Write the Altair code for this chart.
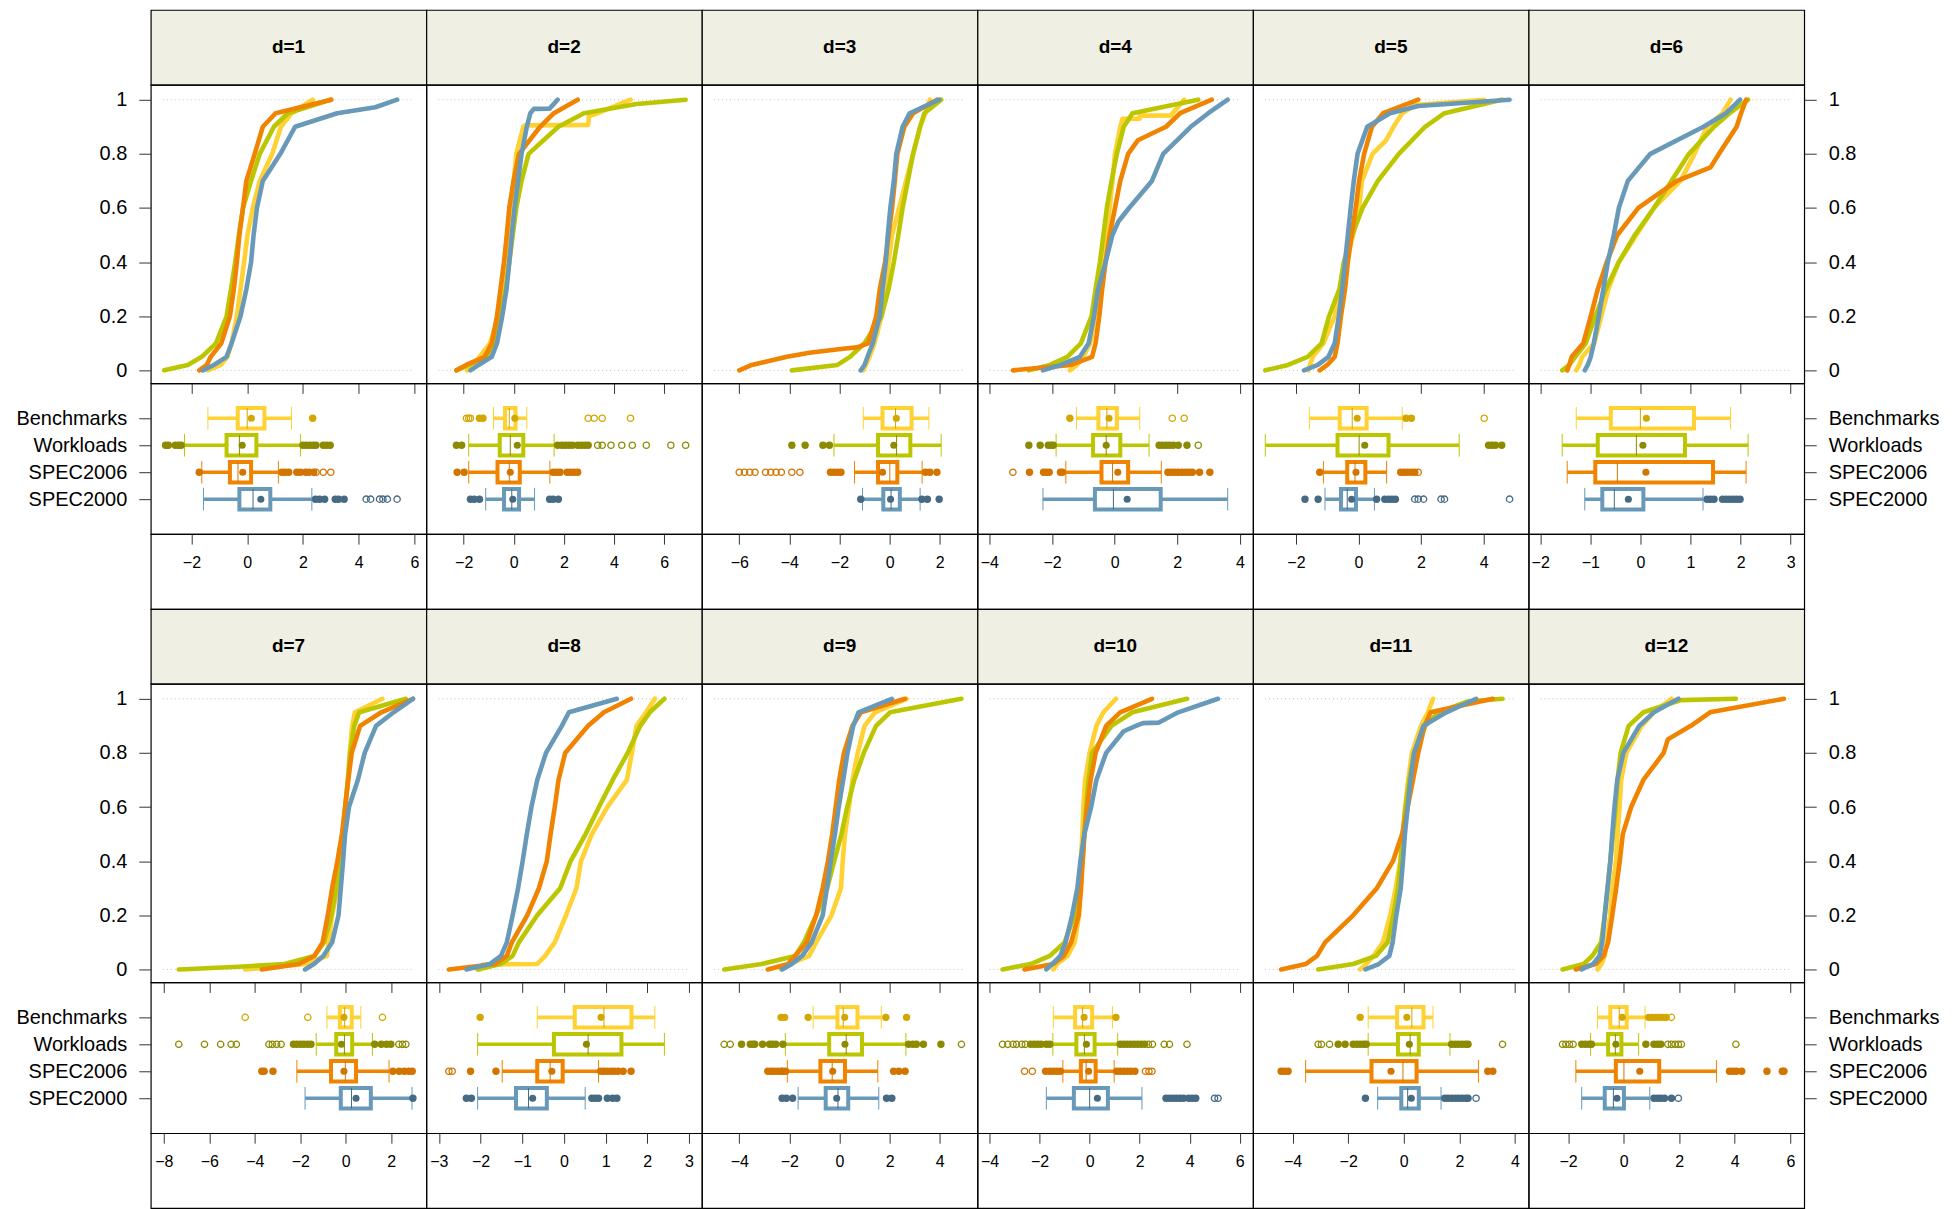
import altair as alt
import pandas as pd

# ---------------- data ----------------
SERIES = ["Benchmarks", "Workloads", "SPEC2006", "SPEC2000"]
PANELS = list(range(1, 13))
P_GRID = [0, 0.02, 0.05, 0.1, 0.2, 0.3, 0.4, 0.5, 0.6, 0.7, 0.8, 0.9, 0.95, 1]

X_DOMAIN = {1: (-3.46, 6.43), 2: (-3.49, 7.51), 3: (-7.49, 3.51), 4: (-4.38, 4.42),
            5: (-3.37, 5.44), 6: (-2.23, 3.27), 7: (-8.57, 3.54), 8: (-3.30, 3.31),
            9: (-5.49, 5.51), 10: (-4.48, 6.53), 11: (-5.42, 4.49), 12: (-3.42, 6.50)}
X_TICKS = {1: [-2, 0, 2, 4, 6], 2: [-2, 0, 2, 4, 6], 3: [-6, -4, -2, 0, 2], 4: [-4, -2, 0, 2, 4],
           5: [-2, 0, 2, 4], 6: [-2, -1, 0, 1, 2, 3], 7: [-8, -6, -4, -2, 0, 2], 8: [-3, -2, -1, 0, 1, 2, 3],
           9: [-4, -2, 0, 2, 4], 10: [-4, -2, 0, 2, 4, 6], 11: [-4, -2, 0, 2, 4], 12: [-2, 0, 2, 4, 6]}

# ECDF: x value at each probability of P_GRID
CDF_BENCH = {
    1: [-1.41, -0.95, -0.71, -0.56, -0.37, -0.24, -0.11, 0.01, 0.2, 0.45, 0.9, 1.21, 1.59, 2.35],
    2: [-1.87, -1.6, -1.37, -0.95, -0.6, -0.46, -0.32, -0.18, -0.11, 0.0, 0.1, 0.38, 3.35, 4.66],
    3: [-1.05, -0.95, -0.8, -0.6, -0.32, -0.18, -0.04, 0.1, 0.38, 0.66, 0.94, 1.22, 1.43, 1.61],
    4: [-1.43, -1.2, -1.0, -0.78, -0.61, -0.49, -0.38, -0.27, -0.16, -0.07, 0.01, 0.18, 1.85, 2.22],
    5: [-1.6, -1.55, -1.46, -1.12, -0.76, -0.58, -0.39, -0.17, 0.02, 0.11, 0.45, 1.12, 1.4, 4.02],
    6: [-1.28, -1.22, -1.16, -0.92, -0.78, -0.64, -0.43, -0.08, 0.27, 0.8, 1.08, 1.33, 1.64, 1.8],
    7: [-4.42, -1.76, -0.83, -0.76, -0.6, -0.37, -0.22, -0.09, -0.02, 0.09, 0.17, 0.28, 0.4, 1.61],
    8: [-2.01, -0.64, -0.45, -0.22, 0.05, 0.3, 0.41, 0.67, 1.04, 1.51, 1.63, 1.74, 1.97, 2.18],
    9: [-2.33, -2.0, -1.21, -0.93, -0.32, 0.06, 0.13, 0.22, 0.38, 0.52, 0.73, 1.0, 1.42, 2.68],
    10: [-1.45, -1.3, -0.88, -0.6, -0.42, -0.38, -0.35, -0.29, -0.25, -0.18, 0.0, 0.27, 0.55, 1.05],
    11: [-1.57, -1.35, -1.09, -0.75, -0.49, -0.29, -0.13, -0.03, 0.05, 0.16, 0.29, 0.62, 0.87, 1.05],
    12: [-0.94, -0.8, -0.68, -0.61, -0.49, -0.41, -0.28, -0.22, -0.15, -0.09, 0.1, 0.65, 1.09, 1.72],
}
CDF_WORK = {
    1: [-2.98, -2.13, -1.63, -1.12, -0.74, -0.58, -0.43, -0.30, -0.15, 0.14, 0.45, 0.96, 1.46, 2.98],
    2: [-2.29, -1.8, -1.09, -0.81, -0.53, -0.32, -0.18, -0.04, 0.1, 0.31, 0.59, 1.78, 2.8, 6.86],
    3: [-3.9, -2.08, -1.58, -1.0, -0.32, -0.04, 0.17, 0.35, 0.52, 0.73, 0.94, 1.22, 1.39, 2.06],
    4: [-2.74, -2.07, -1.51, -1.08, -0.74, -0.61, -0.47, -0.36, -0.25, -0.1, 0.07, 0.29, 0.57, 2.67],
    5: [-2.98, -2.25, -1.63, -1.18, -0.94, -0.61, -0.47, -0.2, 0.13, 0.62, 1.29, 2.13, 2.75, 4.58],
    6: [-1.56, -1.42, -1.3, -1.09, -0.9, -0.69, -0.43, -0.11, 0.27, 0.62, 0.97, 1.47, 1.78, 2.15],
    7: [-7.34, -2.69, -1.38, -0.96, -0.63, -0.42, -0.28, -0.14, -0.03, 0.09, 0.2, 0.37, 0.59, 2.64],
    8: [-2.07, -1.52, -1.23, -1.08, -0.64, -0.09, 0.16, 0.52, 0.84, 1.17, 1.53, 1.83, 2.06, 2.41],
    9: [-4.6, -3.1, -1.77, -1.42, -0.93, -0.49, -0.21, 0.08, 0.31, 0.59, 0.97, 1.46, 2.02, 4.87],
    10: [-3.48, -2.36, -1.59, -1.0, -0.6, -0.41, -0.28, -0.21, -0.14, -0.04, 0.1, 0.87, 1.71, 3.89],
    11: [-3.08, -1.82, -1.0, -0.58, -0.37, -0.21, -0.11, -0.04, 0.06, 0.2, 0.37, 0.77, 1.25, 3.55],
    12: [-2.2, -1.44, -1.13, -0.81, -0.68, -0.58, -0.48, -0.38, -0.29, -0.22, -0.11, 0.18, 0.71, 4.04],
}
CDF_S06 = {
    1: [-1.72, -1.45, -1.31, -0.93, -0.62, -0.48, -0.37, -0.28, -0.15, -0.03, 0.27, 0.56, 1.02, 3.02],
    2: [-2.29, -1.9, -1.16, -0.88, -0.67, -0.53, -0.39, -0.28, -0.18, -0.01, 0.21, 1.05, 1.6, 2.55],
    3: [-6.0, -5.5, -4.1, -0.85, -0.53, -0.39, -0.18, -0.04, 0.1, 0.21, 0.31, 0.59, 0.94, 1.89],
    4: [-3.25, -1.39, -0.72, -0.61, -0.49, -0.4, -0.29, -0.16, 0.01, 0.18, 0.43, 1.64, 2.09, 3.1],
    5: [-1.24, -1.0, -0.76, -0.67, -0.56, -0.43, -0.34, -0.22, -0.09, 0.02, 0.18, 0.43, 0.79, 1.91],
    6: [-1.46, -1.42, -1.37, -1.14, -0.99, -0.85, -0.67, -0.46, -0.04, 0.73, 1.57, 1.92, 2.01, 2.11],
    7: [-3.69, -2.07, -1.38, -1.02, -0.79, -0.6, -0.37, -0.17, -0.03, 0.11, 0.26, 0.63, 1.56, 2.95],
    8: [-2.76, -1.65, -1.37, -1.25, -0.88, -0.6, -0.41, -0.32, -0.22, -0.13, 0.03, 0.58, 0.96, 1.61],
    9: [-2.86, -2.05, -1.77, -1.3, -0.93, -0.67, -0.46, -0.29, -0.15, -0.01, 0.18, 0.52, 0.86, 2.62],
    10: [-2.6, -1.45, -1.03, -0.74, -0.44, -0.34, -0.28, -0.21, -0.1, 0.04, 0.24, 0.66, 1.22, 2.49],
    11: [-4.41, -3.53, -3.12, -2.83, -1.82, -0.97, -0.39, -0.06, 0.14, 0.33, 0.52, 0.75, 0.96, 3.2],
    12: [-1.72, -1.0, -0.72, -0.56, -0.41, -0.27, -0.14, -0.03, 0.27, 0.71, 1.44, 2.42, 3.11, 5.77],
}
CDF_S00 = {
    1: [-1.59, -1.2, -0.74, -0.56, -0.24, -0.03, 0.14, 0.23, 0.35, 0.56, 1.19, 1.72, 3.23, 5.38],
    2: [-1.73, -1.4, -0.88, -0.67, -0.46, -0.29, -0.18, -0.08, 0.03, 0.17, 0.31, 0.52, 0.66, 1.75],
    3: [-1.15, -1.0, -0.88, -0.67, -0.39, -0.28, -0.15, -0.07, 0.03, 0.17, 0.27, 0.52, 0.8, 1.98],
    4: [-2.29, -1.73, -1.11, -0.83, -0.66, -0.53, -0.29, -0.07, 0.46, 1.19, 1.55, 2.43, 2.99, 3.61],
    5: [-1.74, -1.3, -0.96, -0.76, -0.63, -0.52, -0.43, -0.34, -0.25, -0.15, -0.03, 0.28, 1.01, 4.83],
    6: [-1.11, -1.05, -0.99, -0.93, -0.83, -0.74, -0.65, -0.53, -0.43, -0.25, 0.2, 1.26, 1.71, 1.99],
    7: [-1.79, -1.4, -0.99, -0.6, -0.32, -0.22, -0.12, -0.03, 0.14, 0.53, 0.83, 1.33, 2.1, 2.95],
    8: [-2.34, -1.78, -1.51, -1.37, -1.23, -1.1, -0.99, -0.89, -0.78, -0.64, -0.43, -0.05, 0.12, 1.27],
    9: [-2.29, -1.9, -1.49, -1.11, -0.67, -0.5, -0.35, -0.18, -0.03, 0.15, 0.32, 0.55, 0.76, 2.09],
    10: [-1.73, -1.5, -1.17, -0.96, -0.7, -0.49, -0.37, -0.21, 0.06, 0.27, 0.66, 1.85, 3.54, 5.13],
    11: [-1.38, -0.9, -0.52, -0.4, -0.27, -0.11, -0.03, 0.04, 0.14, 0.24, 0.37, 0.71, 1.53, 2.6],
    12: [-1.51, -1.1, -0.87, -0.77, -0.68, -0.58, -0.48, -0.41, -0.33, -0.23, -0.01, 0.56, 1.09, 1.97],
}
# extra (probability, x) points where the curves have steps
EXTRA_BENCH = {2: [(0.905, 0.45), (0.907, 2.97), (0.94, 3.0)],
               4: [(0.929, 0.25), (0.93, 0.8), (0.941, 0.8), (0.942, 1.81)],
               5: [(0.85, 0.88), (0.98, 1.8)], 8: [(0.018, -1.95)]}
EXTRA_WORK = {2: [(0.984, 4.9)], 7: [(0.01, -4.7)], 11: [(0.99, 2.3)], 12: [(0.99, 1.9), (0.995, 2.05)]}
EXTRA_S06 = {3: [(0.065, -3.2), (0.08, -1.87), (0.085, -1.3)], 4: [(0.85, 0.74)],
             6: [(0.75, 1.4)], 12: [(0.85, 1.59)]}
EXTRA_S00 = {1: [(0.972, 4.6)], 2: [(0.966, 0.8), (0.967, 1.43)], 4: [(0.55, 0.12)],
             5: [(0.977, 1.91)], 10: [(0.88, 1.36), (0.91, 2.13), (0.912, 2.77)]}

# box plots: (lower whisker, q1, median, q3, upper whisker, mean)
BOX_BENCH = {1: (-1.41, -0.34, 0.0, 0.62, 1.59, 0.15), 2: (-0.81, -0.35, -0.18, 0.07, 0.52, 0.04),
             3: (-1.05, -0.28, 0.24, 0.88, 1.57, 0.27), 4: (-1.22, -0.52, -0.25, 0.07, 0.8, -0.18),
             5: (-1.57, -0.6, -0.2, 0.26, 1.4, -0.04), 6: (-1.28, -0.59, 0.0, 1.07, 1.8, 0.12),
             7: (-0.83, -0.26, -0.05, 0.26, 0.66, -0.08), 8: (-0.64, 0.26, 0.96, 1.62, 2.18, 0.89),
             9: (-1.05, -0.08, 0.15, 0.72, 1.67, 0.21), 10: (-1.45, -0.58, -0.28, 0.1, 0.91, -0.22),
             11: (-1.28, -0.24, 0.29, 0.71, 1.05, 0.11), 12: (-0.94, -0.48, -0.16, 0.11, 0.77, -0.05)}
BOX_WORK = {1: (-2.25, -0.74, -0.28, 0.33, 1.91, -0.18), 2: (-1.8, -0.56, -0.14, 0.38, 1.61, 0.14),
            3: (-2.22, -0.46, 0.28, 0.83, 2.06, 0.17), 4: (-1.87, -0.69, -0.27, 0.18, 1.1, -0.27),
            5: (-2.98, -0.67, 0.02, 0.96, 3.22, 0.2), 6: (-1.56, -0.85, -0.08, 0.89, 2.15, 0.05),
            7: (-1.3, -0.42, -0.06, 0.28, 1.17, -0.19), 8: (-2.07, -0.24, 0.58, 1.38, 2.41, 0.54),
            9: (-2.16, -0.41, 0.27, 0.9, 2.65, 0.22), 10: (-1.47, -0.53, -0.21, 0.2, 1.12, -0.13),
            11: (-1.28, -0.21, 0.23, 0.54, 1.66, 0.2), 12: (-1.19, -0.56, -0.3, -0.08, 0.54, -0.28)}
BOX_S06 = {1: (-1.63, -0.62, -0.33, 0.14, 1.12, -0.16), 2: (-1.8, -0.65, -0.18, 0.24, 1.44, -0.14),
           3: (-1.4, -0.46, 0.01, 0.31, 1.3, -0.28), 4: (-1.56, -0.42, -0.07, 0.43, 1.49, 0.1),
           5: (-1.12, -0.36, -0.11, 0.22, 0.9, -0.08), 6: (-1.46, -0.9, -0.46, 1.45, 2.11, 0.11),
           7: (-2.15, -0.65, -0.02, 0.45, 1.9, -0.08), 8: (-1.48, -0.64, -0.33, -0.03, 0.83, -0.29),
           9: (-2.08, -0.76, -0.29, 0.22, 1.53, -0.27), 10: (-1.07, -0.35, -0.14, 0.24, 0.98, -0.04),
           11: (-3.53, -1.16, -0.03, 0.46, 2.69, -0.46), 12: (-1.72, -0.28, 0.01, 1.28, 3.34, 0.58)}
BOX_S00 = {1: (-1.57, -0.28, 0.21, 0.83, 2.32, 0.49), 2: (-1.12, -0.39, -0.08, 0.21, 0.83, -0.04),
           3: (-1.08, -0.25, 0.06, 0.41, 1.22, 0.04), 4: (-2.29, -0.63, -0.04, 1.47, 3.61, 0.4),
           5: (-1.07, -0.56, -0.36, -0.08, 0.51, -0.22), 6: (-1.11, -0.76, -0.52, 0.06, 1.25, -0.24),
           7: (-1.79, -0.22, 0.25, 1.1, 2.91, 0.45), 8: (-2.07, -1.15, -0.85, -0.41, 0.51, -0.75),
           9: (-1.65, -0.55, -0.06, 0.35, 1.57, -0.11), 10: (-1.73, -0.63, 0.0, 0.73, 2.09, 0.31),
           11: (-0.94, -0.09, 0.14, 0.54, 1.34, 0.27), 12: (-1.51, -0.68, -0.37, 0.01, 0.94, -0.24)}

# outliers: filled (mild) and open (extreme)
FILLED_BENCH = {1: [2.35], 2: [-1.37, -1.23], 4: [-1.43], 5: [1.52, 1.69], 8: [-2.01],
                9: [-2.33, -2.19, -1.25, 1.85, 2.68], 10: [1.05], 11: [-1.57],
                12: [0.9, 1.03, 1.15, 1.28, 1.41, 1.53]}
OPEN_BENCH = {2: [-1.89, -1.8, -1.73, 2.97, 3.21, 3.53, 4.66], 4: [1.84, 2.22], 5: [4.02],
              7: [-4.42, -1.67, 1.61], 12: [1.72]}
FILLED_WORK = {1: [-2.93, -2.83, -2.58, -2.47, -2.37, 2.0, 2.12, 2.25, 2.37, 2.47, 2.73, 2.85, 2.98],
               2: [-2.29, -2.08, 1.75, 1.92, 2.06, 2.2, 2.34, 2.55, 2.69, 2.83, 2.97],
               3: [-3.9, -3.37, -2.66, -2.4],
               4: [-2.74, -2.38, -2.12, -2.03, -1.96, 1.42, 1.53, 1.64, 1.75, 1.87, 2.03, 2.31],
               5: [4.16, 4.27, 4.38, 4.58],
               7: [-2.3, -2.15, -1.99, -1.84, -1.68, -1.53, 1.27, 1.56, 1.79, 1.98],
               9: [-3.91, -3.56, -3.45, -3.38, -3.07, -2.79, -2.68, -2.54, -2.26, 2.76, 2.93, 3.07, 3.35, 4.05],
               10: [-2.36, -2.22, -2.08, -1.94, -1.73, -1.59, 1.22, 1.36, 1.5, 1.64, 1.78, 1.92, 2.06, 2.2],
               11: [-2.36, -2.11, -1.82, -1.69, -1.57, -1.44, -1.35, 1.72, 1.85, 1.97, 2.1, 2.23, 2.31],
               12: [-1.51, -1.38, -1.25, -1.16, 0.8, 1.09, 1.22, 1.34]}
OPEN_WORK = {2: [3.35, 3.53, 3.88, 4.31, 4.73, 5.29, 6.27, 6.86], 4: [2.67],
             7: [-7.34, -6.21, -5.5, -5.04, -4.81, -3.38, -3.23, -3.04, -2.84, 2.33, 2.49, 2.64],
             9: [-4.6, -4.36, 4.87],
             10: [-3.48, -3.27, -3.06, -2.92, -2.71, -2.57, 2.35, 2.51, 2.98, 3.19, 3.89],
             11: [-3.08, -2.96, -2.67, 3.55],
             12: [-2.2, -2.08, -1.95, -1.82, 1.59, 1.72, 1.85, 1.97, 2.08, 4.04]}
FILLED_S06 = {1: [-1.72, 1.24, 1.36, 1.49, 1.78, 1.91, 2.1, 2.22, 2.39],
              2: [-2.26, -1.98, 1.57, 1.71, 1.85, 2.13, 2.27, 2.41, 2.55],
              3: [-2.36, -2.22, -2.08, -1.94, 1.43, 1.61, 1.89],
              4: [-2.72, -2.27, -2.18, -2.09, -1.73, -1.67, 1.7, 1.81, 1.92, 2.03, 2.15, 2.26, 2.37, 2.48, 2.71, 3.04],
              5: [-1.24, 1.35, 1.46, 1.57, 1.69, 1.8],
              7: [-3.69, -3.59, -3.2, 2.07, 2.35, 2.57, 2.77, 2.92],
              8: [-2.24, -1.63, 0.88, 0.96, 1.04, 1.13, 1.21, 1.3, 1.42, 1.61],
              9: [-2.86, -2.72, -2.61, -2.47, -2.33, -2.26, -2.15, 2.16, 2.37, 2.62],
              10: [-1.76, -1.59, -1.45, -1.31, -1.17, 1.08, 1.22, 1.36, 1.5, 1.64, 1.81],
              11: [-4.41, -4.29, -4.16, 3.02, 3.2],
              12: [3.81, 3.94, 4.06, 4.25, 5.16, 5.71, 5.77]}
OPEN_S06 = {1: [2.47, 2.73, 3.0],
            3: [-6.0, -5.79, -5.58, -5.37, -4.95, -4.74, -4.53, -4.32, -3.9, -3.58],
            4: [-3.25], 5: [1.91], 8: [-2.76, -2.68], 10: [-2.6, -2.29, 2.23, 2.37, 2.49]}
FILLED_S00 = {1: [2.45, 2.6, 2.78, 3.16, 3.28, 3.48], 2: [-1.73, -1.58, -1.37, 1.43, 1.57, 1.78],
              3: [-1.15, 1.29, 1.51, 1.98], 5: [-1.71, -1.29, 0.58, 0.84, 0.96, 1.07, 1.18],
              6: [1.33, 1.4, 1.47, 1.64, 1.71, 1.78, 1.85, 1.92, 1.99], 7: [2.95],
              8: [-2.34, -2.22, 0.67, 0.75, 0.83, 1.04, 1.17, 1.27],
              9: [-2.29, -2.12, -1.87, 1.88, 2.09],
              10: [3.05, 3.19, 3.33, 3.47, 3.61, 3.75, 3.96, 4.1, 4.24],
              11: [-1.38, 1.47, 1.59, 1.72, 1.85, 1.97, 2.1, 2.23, 2.31],
              12: [1.09, 1.22, 1.34, 1.47, 1.72]}
OPEN_S00 = {1: [4.27, 4.43, 4.75, 4.87, 5.03, 5.38], 5: [1.8, 1.91, 2.08, 2.64, 2.75, 4.83],
            10: [4.99, 5.13], 11: [2.6], 12: [1.97]}

# ---------------- styling ----------------
FONT = "Liberation Sans"
W, H_STRIP, H_CDF, H_BOX, H_AXIS = 276, 75, 299, 151, 75
BASE = {"Benchmarks": "#FFD133", "Workloads": "#BCC600", "SPEC2006": "#F08300", "SPEC2000": "#6899B9"}
DARK = {"Benchmarks": "#D4A600", "Workloads": "#8C8A00", "SPEC2006": "#D27400", "SPEC2000": "#466A84"}
STRIP_FILL = "#F0EFE3"
TICK_COLOR = "#333333"

CDF = {"Benchmarks": CDF_BENCH, "Workloads": CDF_WORK, "SPEC2006": CDF_S06, "SPEC2000": CDF_S00}
EXTRA = {"Benchmarks": EXTRA_BENCH, "Workloads": EXTRA_WORK, "SPEC2006": EXTRA_S06, "SPEC2000": EXTRA_S00}
BOX = {"Benchmarks": BOX_BENCH, "Workloads": BOX_WORK, "SPEC2006": BOX_S06, "SPEC2000": BOX_S00}
FILLED = {"Benchmarks": FILLED_BENCH, "Workloads": FILLED_WORK, "SPEC2006": FILLED_S06, "SPEC2000": FILLED_S00}
OPEN = {"Benchmarks": OPEN_BENCH, "Workloads": OPEN_WORK, "SPEC2006": OPEN_S06, "SPEC2000": OPEN_S00}


def y_axis_cdf(col):
    common = dict(values=[0, 0.2, 0.4, 0.6, 0.8, 1], format=".1~f", tickSize=12, labelPadding=12,
                  labelFontSize=20, domain=False, grid=False, title=None, labelOverlap=False,
                  labelFlush=False)
    if col == 0:
        return alt.Axis(orient="left", **common)
    if col == 5:
        return alt.Axis(orient="right", **common)
    return None


def y_axis_box(col):
    expr = "[''," + ",".join("'%s'" % s for s in SERIES) + "][datum.value]"
    common = dict(values=[1, 2, 3, 4], labelExpr=expr, tickSize=12, labelPadding=12,
                  labelFontSize=20, domain=False, grid=False, title=None, labelOverlap=False,
                  labelFlush=False)
    if col == 0:
        return alt.Axis(orient="left", **common)
    if col == 5:
        return alt.Axis(orient="right", **common)
    return None


def strip_chart(d):
    return alt.Chart(pd.DataFrame({"t": ["d=%d" % d]})).mark_text(
        font=FONT, fontWeight="bold", fontSize=19, color="black"
    ).encode(text="t:N", x=alt.value(W / 2), y=alt.value(H_STRIP / 2)).properties(
        width=W, height=H_STRIP,
        view=alt.ViewBackground(fill=STRIP_FILL, stroke="black", strokeWidth=1.2))


def cdf_chart(d, col):
    xs = alt.Scale(domain=list(X_DOMAIN[d]), nice=False, zero=False)
    ys = alt.Scale(domain=[-0.048, 1.055], nice=False, zero=False)
    xa = alt.Axis(orient="bottom", values=X_TICKS[d], labels=False, tickSize=10, domain=False,
                  grid=False, title=None)
    ya = y_axis_cdf(col)
    ref = alt.Chart(pd.DataFrame({"p": [0, 1]})).mark_rule(
        strokeDash=[1, 3], color="#c4c4c4", strokeWidth=1
    ).encode(y=alt.Y("p:Q", scale=ys, axis=ya), x=alt.value(12), x2=alt.value(264))
    layers = [ref]
    for s in SERIES:
        pts = list(zip(P_GRID, CDF[s][d])) + list(EXTRA[s].get(d, []))
        pts.sort(key=lambda t: t[0])
        df = pd.DataFrame({"p": [t[0] for t in pts], "x": [t[1] for t in pts]})
        layers.append(alt.Chart(df).mark_line(
            strokeWidth=4.6, strokeCap="round", strokeJoin="round", color=BASE[s]
        ).encode(x=alt.X("x:Q", scale=xs, axis=xa), y=alt.Y("p:Q", scale=ys, axis=ya),
                 order=alt.Order("p:Q")))
    return alt.layer(*layers).properties(width=W, height=H_CDF)


def box_chart(d, col):
    xs = alt.Scale(domain=list(X_DOMAIN[d]), nice=False, zero=False)
    ys = alt.Scale(domain=[-0.296, 5.296], nice=False, zero=False, reverse=True)
    xa = alt.Axis(orient="bottom", values=X_TICKS[d], format="d", tickSize=10, labelPadding=10,
                  labelFontSize=16, domain=False, grid=False, title=None, labelFlush=False,
                  labelOverlap=False)
    ya = y_axis_box(col)
    rows = []
    for i, s in enumerate(SERIES):
        lo, q1, med, q3, hi, mean = BOX[s][d]
        rows.append(dict(s=s, r=i + 1, lo=lo, q1=q1, med=med, q3=q3, hi=hi, mean=mean,
                         c=BASE[s], k=DARK[s]))
    df = pd.DataFrame(rows)
    base = alt.Chart(df).transform_calculate(
        y0="datum.r - 0.38", y1="datum.r + 0.38", c0="datum.r - 0.42", c1="datum.r + 0.42")

    def X(f):
        return alt.X(f, type="quantitative", scale=xs, axis=xa)

    def Y(f):
        return alt.Y(f, type="quantitative", scale=ys, axis=ya)

    cbase = alt.Color("c:N", scale=None)
    cdark = alt.Color("k:N", scale=None)
    whisk = base.mark_rule(strokeWidth=3.6).encode(x=X("lo"), x2=alt.X2("hi"), y=Y("r"), color=cbase)
    caps = base.transform_fold(["lo", "hi"], as_=["w", "v"]).mark_rule(strokeWidth=1).encode(
        x=X("v"), y=Y("c0"), y2=alt.Y2("c1"), color=cbase)
    rect = base.mark_rect(fill="white", strokeWidth=4).encode(
        x=X("q1"), x2=alt.X2("q3"), y=Y("y0"), y2=alt.Y2("y1"), stroke=alt.Stroke("c:N", scale=None))
    med = base.mark_rule(strokeWidth=1).encode(x=X("med"), y=Y("y0"), y2=alt.Y2("y1"), color=cdark)
    mean = base.mark_circle(size=50, opacity=1).encode(x=X("mean"), y=Y("r"), color=cdark)
    layers = [whisk, caps, rect, med, mean]

    frows, orows = [], []
    for i, s in enumerate(SERIES):
        for v in FILLED[s].get(d, []):
            frows.append(dict(r=i + 1, v=v, k=DARK[s]))
        for v in OPEN[s].get(d, []):
            orows.append(dict(r=i + 1, v=v, k=DARK[s]))
    if frows:
        layers.append(alt.Chart(pd.DataFrame(frows)).mark_circle(size=55, opacity=1).encode(
            x=X("v"), y=Y("r"), color=cdark))
    if orows:
        layers.append(alt.Chart(pd.DataFrame(orows)).mark_point(
            filled=False, shape="circle", size=40, strokeWidth=1.3, opacity=1
        ).encode(x=X("v"), y=Y("r"), color=cdark))
    return alt.layer(*layers).properties(width=W, height=H_BOX)


def axis_cell():
    return alt.Chart(pd.DataFrame({"a": [0]})).mark_point(opacity=0).encode(
        x=alt.value(0), y=alt.value(0)).properties(width=W, height=H_AXIS)


cells = []
for block in (PANELS[:6], PANELS[6:]):
    for col, d in enumerate(block):
        cells.append(strip_chart(d))
    for col, d in enumerate(block):
        cells.append(cdf_chart(d, col))
    for col, d in enumerate(block):
        cells.append(box_chart(d, col))
    for col, d in enumerate(block):
        cells.append(axis_cell())

chart = alt.concat(*cells, columns=6, spacing=0, bounds="flush").properties(
    padding={"left": 7, "top": 0, "right": 5, "bottom": 0}
).configure_view(stroke="black", strokeWidth=1.2).configure_axis(
    labelFont=FONT, labelColor="black", tickColor=TICK_COLOR, tickWidth=1
)

chart.save("out.html", embed_options={"renderer": "svg", "actions": False})
